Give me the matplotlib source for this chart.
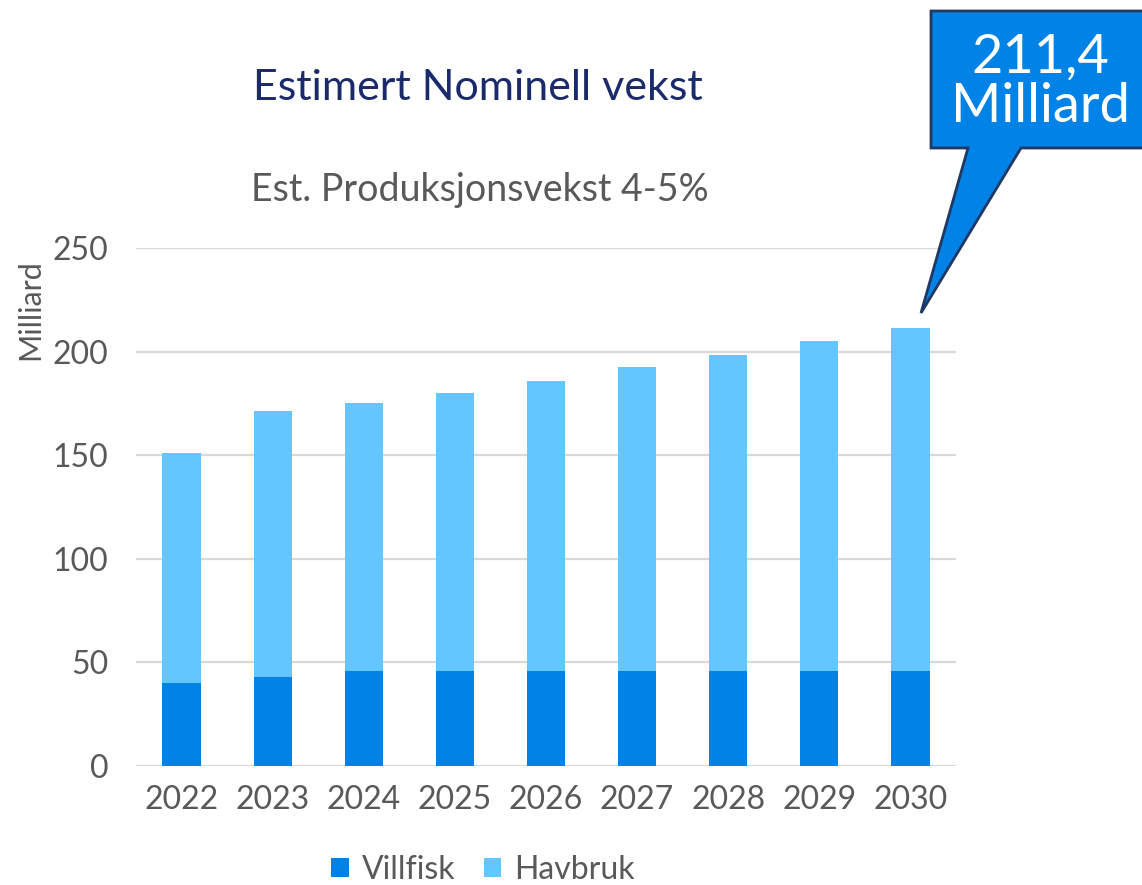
import matplotlib
matplotlib.use("Agg")
import matplotlib.pyplot as plt
from matplotlib.patches import Polygon
import numpy as np

years = ["2022", "2023", "2024", "2025", "2026", "2027", "2028", "2029", "2030"]
villfisk = [40, 43, 46, 46, 46, 46, 46, 46, 46]
totals = [151, 171.3, 175.2, 180, 185.8, 192.6, 198.4, 205.1, 211.4]
havbruk = [t - v for t, v in zip(totals, villfisk)]
yticks = [0, 50, 100, 150, 200, 250]

plt.rcParams['font.family'] = ['Lato', 'DejaVu Sans']

W, H = 1142, 885
fig = plt.figure(figsize=(W / 100, H / 100), dpi=100)

def fx(px):
    return px / W

def fy(py):
    return 1 - py / H

ax = fig.add_axes([fx(136), fy(766), fx(956) - fx(136), fy(248) - fy(766)])
x = np.arange(len(years))
c_vill = "#0082E6"
c_hav = "#63C6FF"
ax.bar(x, villfisk, width=0.42, color=c_vill, label="Villfisk", zorder=3)
ax.bar(x, havbruk, width=0.42, bottom=villfisk, color=c_hav, label="Havbruk", zorder=3)
ax.set_xlim(-0.5, len(years) - 0.5)
ax.set_ylim(0, 250)
ax.set_yticks(yticks)
ax.set_yticklabels([str(t) for t in yticks])
ax.set_xticks(x)
ax.set_xticklabels(years)
ax.yaxis.grid(True, color="#D9D9D9", linewidth=1.6, zorder=0)
ax.set_axisbelow(True)
for s in ax.spines.values():
    s.set_visible(False)
ax.tick_params(axis="both", length=0, labelsize=23, colors="#595959")
ax.tick_params(axis="y", pad=20)
ax.tick_params(axis="x", pad=14)

fig.text(fx(30), fy(310), "Milliard", rotation=90, ha="center", va="center",
         fontsize=22, color="#595959")

fig.text(fx(478), fy(88), "Estimert Nominell vekst", ha="center", va="center",
         fontsize=31, color="#1B2A6B")
fig.text(fx(480), fy(190), "Est. Produksjonsvekst 4-5%", ha="center", va="center",
         fontsize=27, color="#595959")

# callout
pts_px = [(931, 11), (1150, 11), (1150, 148), (1021, 148), (921, 313), (968, 148), (931, 148)]
pts = [(fx(a), fy(b)) for a, b in pts_px]
poly = Polygon(pts, closed=True, transform=fig.transFigure, facecolor="#0082E6",
               edgecolor="#1F3864", linewidth=2, zorder=10)
fig.patches.append(poly)
fig.text(fx(1040), fy(82), "211,4\nMilliard", ha="center", va="center",
         fontsize=39, color="white", linespacing=1.02, zorder=11)

leg = fig.legend(loc="center", bbox_to_anchor=(fx(483), fy(870)), ncol=2, frameon=False,
                 fontsize=23, handlelength=0.55, handleheight=0.55, handletextpad=0.4,
                 columnspacing=0.9, labelcolor="#595959", borderpad=0)

fig.savefig("out.png", dpi=100)
